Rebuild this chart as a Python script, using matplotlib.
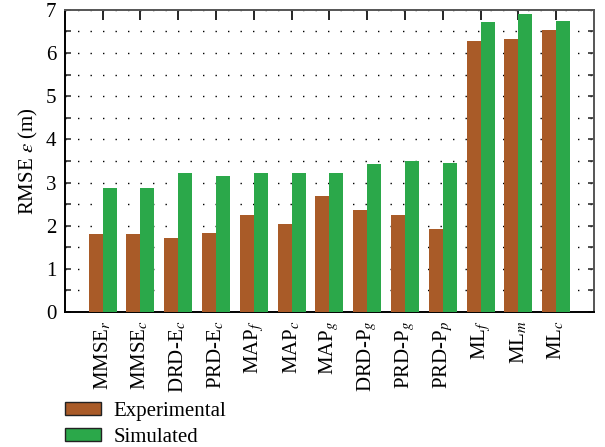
import numpy as np
import matplotlib
matplotlib.use('Agg')
import matplotlib.pyplot as plt
from matplotlib.patches import Patch
from matplotlib.ticker import MultipleLocator

plt.rcParams['font.family'] = ['Liberation Serif', 'DejaVu Serif']
plt.rcParams['mathtext.fontset'] = 'stix'

methods = ['MMSE$_r$', 'MMSE$_c$', 'DRD-E$_c$', 'PRD-E$_c$', 'MAP$_f$', 'MAP$_c$',
           'MAP$_g$', 'DRD-P$_g$', 'PRD-P$_g$', 'PRD-P$_p$', 'ML$_f$', 'ML$_m$', 'ML$_c$']
experimental = [1.80, 1.80, 1.71, 1.83, 2.24, 2.03, 2.68, 2.36, 2.24, 1.92, 6.28, 6.33, 6.54]
simulated = [2.87, 2.87, 3.22, 3.15, 3.22, 3.22, 3.22, 3.43, 3.50, 3.45, 6.72, 6.91, 6.74]

c_exp = '#A95B28'
c_sim = '#2BA84A'
fs = 15

fig = plt.figure(figsize=(6.05, 4.47), dpi=100)
ax = fig.add_axes([0.107, 0.302, 0.875, 0.676])

x = np.arange(1, len(methods) + 1)
w = 0.37
ax.bar(x - w / 2, experimental, w, color=c_exp, linewidth=0, zorder=3)
ax.bar(x + w / 2, simulated, w, color=c_sim, linewidth=0, zorder=3)

ax.set_xlim(0, 14)
ax.set_ylim(0, 7)
ax.set_xticks(x)
ax.set_xticklabels(methods, rotation=90, fontsize=fs)
ax.yaxis.set_major_locator(MultipleLocator(1))
ax.yaxis.set_minor_locator(MultipleLocator(0.5))
ax.tick_params(axis='y', which='both', direction='in', left=True, right=True,
               length=4.5, width=1.2, labelsize=fs, color='#333333', pad=6)
ax.tick_params(axis='x', which='both', direction='in', bottom=False, top=True,
               length=7.5, width=1.2, pad=6)

# dotted horizontal grid every half metre
ax.grid(axis='y', which='both', color='black', linestyle=(0, (1, 8)), linewidth=1.0, zorder=0)

for side in ['left', 'bottom']:
    ax.spines[side].set_color('black')
    ax.spines[side].set_linewidth(1.4)
for side in ['top', 'right']:
    ax.spines[side].set_color('#555555')
    ax.spines[side].set_linewidth(1.4)

ax.set_ylabel('RMSE $\\epsilon$ (m)', fontsize=fs, labelpad=4)

handles = [Patch(facecolor=c_exp, edgecolor='#222222', linewidth=1.0, label='Experimental'),
           Patch(facecolor=c_sim, edgecolor='#222222', linewidth=1.0, label='Simulated')]
fig.legend(handles=handles, loc='upper left', bbox_to_anchor=(0.09, 0.125),
           frameon=False, fontsize=fs, handlelength=1.75, handleheight=0.6,
           labelspacing=0.35, handletextpad=0.6, borderpad=0)

fig.savefig('out.png', dpi=100)
